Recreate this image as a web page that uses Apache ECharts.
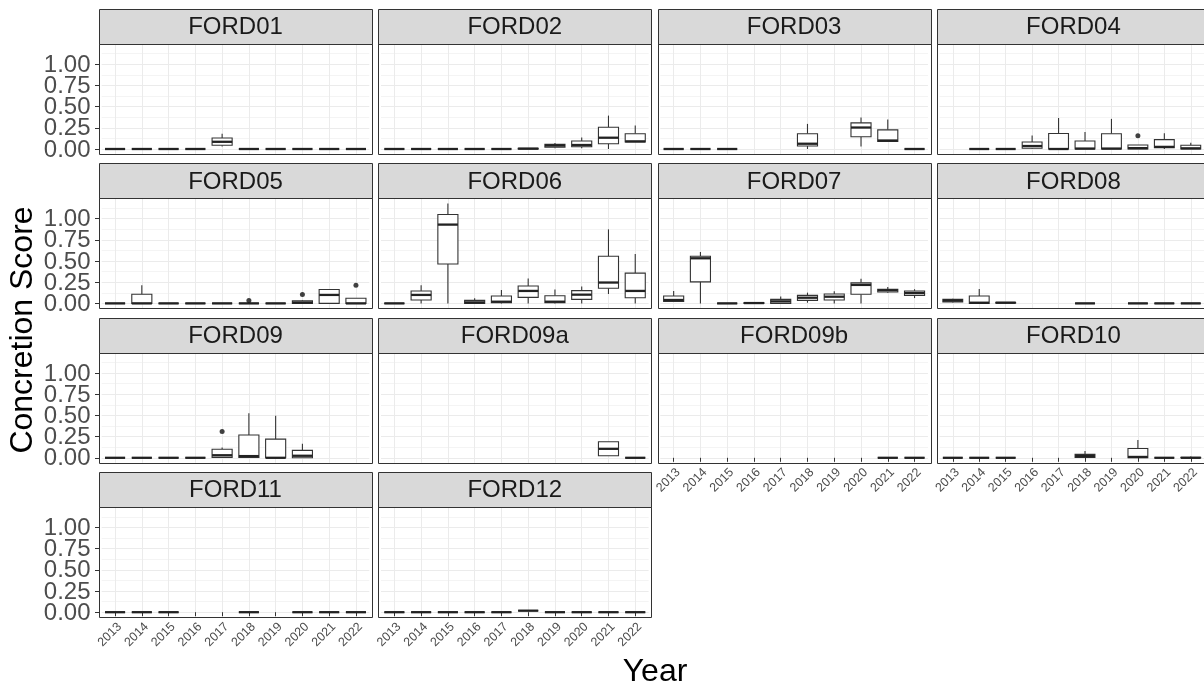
<!DOCTYPE html>
<html><head><meta charset="utf-8">
<script src="https://cdn.jsdelivr.net/npm/echarts@6/dist/echarts.min.js"></script>
<style>html,body{margin:0;padding:0;background:#fff}#c{width:1204px;height:686px}</style>
</head><body><div id="c"></div>
<script>
// ---------- data ----------
const years = ['2013','2014','2015','2016','2017','2018','2019','2020','2021','2022'];
const stations = ['FORD01','FORD02','FORD03','FORD04','FORD05','FORD06','FORD07','FORD08','FORD09','FORD09a','FORD09b','FORD10','FORD11','FORD12'];
const yTicks = [0, 0.25, 0.5, 0.75, 1.0];
// each item: [min, Q1, median, Q3, max]  (null = no samples that year)
const FORD01 = [[0,0,0,0,0],[0,0,0,0,0],[0,0,0,0,0],[0,0,0,0,0],[0.03,0.045,0.085,0.13,0.18],[0,0,0,0,0],[0,0,0,0,0],[0,0,0,0,0],[0,0,0,0,0],[0,0,0,0,0]];
const FORD02 = [[0,0,0,0,0],[0,0,0,0,0],[0,0,0,0,0],[0,0,0,0,0],[0,0,0,0,0],[0,0,0.004,0.008,0.01],[0.01,0.02,0.04,0.055,0.07],[0.01,0.027,0.047,0.094,0.136],[0,0.062,0.133,0.257,0.394],[0.082,0.082,0.09,0.18,0.277]];
const FORD03 = [[0,0,0,0,0],[0,0,0,0,0],[0,0,0,0,0],null,null,[0,0.035,0.062,0.18,0.296],null,[0.03,0.144,0.253,0.308,0.37],[0.09,0.09,0.1,0.226,0.347],[0,0,0,0,0]];
const FORD04 = [null,[0,0,0,0,0],[0,0,0,0,0],[0,0.008,0.035,0.082,0.16],[0,0,0,0.183,0.366],[0,0,0.005,0.094,0.2],[0,0,0.005,0.18,0.355],[0,0,0.01,0.047,0.047],[0,0.016,0.025,0.11,0.187],[0,0,0.008,0.045,0.074]];
const FORD05 = [[0,0,0,0,0],[0,0,0,0.107,0.214],[0,0,0,0,0],[0,0,0,0,0],[0,0,0,0,0],[0,0,0,0,0],[0,0,0,0,0],[0,0,0.01,0.03,0.04],[0,0,0.1,0.163,0.163],[0,0,0,0.06,0.06]];
const FORD06 = [[0,0,0,0,0],[0,0.04,0.1,0.147,0.214],[0,0.464,0.929,1.048,1.179],[0,0,0.012,0.036,0.06],[0,0.008,0.02,0.087,0.159],[0,0.071,0.147,0.206,0.294],[0,0.008,0.02,0.091,0.163],[0,0.048,0.103,0.151,0.198],[0.111,0.179,0.246,0.556,0.873],[0,0.067,0.147,0.357,0.583]];
const FORD07 = [[0.02,0.024,0.04,0.087,0.147],[0,0.254,0.532,0.556,0.607],[0,0,0,0,0],[0,0,0.004,0.008,0.01],[0,0,0.024,0.048,0.08],[0.008,0.036,0.067,0.095,0.127],[0,0.04,0.079,0.111,0.143],[0,0.107,0.218,0.242,0.29],[0.127,0.135,0.155,0.167,0.194],[0.063,0.095,0.123,0.147,0.167]];
const FORD08 = [[0.01,0.016,0.032,0.048,0.055],[0,0,0.008,0.087,0.17],[0,0.004,0.008,0.012,0.016],null,null,[0,0,0,0,0],null,[0,0,0,0,0],[0,0,0,0,0],[0,0,0,0,0]];
const FORD09 = [[0,0,0,0,0],[0,0,0,0,0],[0,0,0,0,0],[0,0,0,0,0],[0,0.005,0.03,0.1,0.12],[0,0.004,0.02,0.268,0.524],[0,0,0,0.22,0.496],[0,0,0.024,0.087,0.165],null,null];
const FORD09a = [null,null,null,null,null,null,null,null,[0.024,0.024,0.106,0.189,0.189],[0,0,0,0,0]];
const FORD09b = [null,null,null,null,null,null,null,null,[0,0,0,0,0],[0,0,0,0,0]];
const FORD10 = [[0,0,0,0,0],[0,0,0,0,0],[0,0,0,0,0],null,null,[0,0.005,0.02,0.04,0.08],null,[0,0,0.01,0.11,0.21],[0,0,0,0,0],[0,0,0,0.005,0.015]];
const FORD11 = [[0,0,0,0,0],[0,0,0,0,0],[0,0,0,0,0],null,null,[0,0,0,0,0],null,[0,0,0,0,0],[0,0,0,0,0],[0,0,0,0,0]];
const FORD12 = [[0,0,0,0,0],[0,0,0,0,0],[0,0,0,0,0],[0,0,0,0,0],[0,0,0,0,0],[0.018,0.018,0.018,0.018,0.018],[0,0,0,0,0],[0,0,0,0,0],[0,0,0,0,0],[0,0,0,0,0]];
// outliers: [station, year, value]
const outliers = [['FORD04','2020',0.155],['FORD05','2018',0.035],['FORD05','2020',0.105],['FORD05','2022',0.214],['FORD09','2017',0.31]];

const stationData = {FORD01,FORD02,FORD03,FORD04,FORD05,FORD06,FORD07,FORD08,FORD09,FORD09a,FORD09b,FORD10,FORD11,FORD12};

// ---------- layout ----------
const FONT = "'Liberation Sans', Arial, sans-serif";
const PANEL_LEFT0 = 99, PANEL_W = 273, COL_STEP = 279.3;
const STRIP_TOP0 = 9, STRIP_H = 35, PANEL_H = 110, ROW_STEP = 154.4;
const NCOL = 4;
const INSET = PANEL_W * 0.1 / 10.2; // ggplot discrete expansion (0.6 units each side)

let allVals = [];
stations.forEach(s => stationData[s].forEach(b => { if (b) allVals = allVals.concat(b); }));
outliers.forEach(o => allVals.push(o[2]));
const dMax = Math.max(...allVals), dMin = Math.min(...allVals);
const yMin = dMin - 0.05 * (dMax - dMin), yMax = dMax + 0.05 * (dMax - dMin);

const grids = [], xAxes = [], yAxes = [], series = [], graphics = [];
const leftPanels = [];

stations.forEach((name, i) => {
  const row = Math.floor(i / NCOL), col = i % NCOL;
  const px = PANEL_LEFT0 + col * COL_STEP;
  const st = STRIP_TOP0 + row * ROW_STEP;
  const pt = st + STRIP_H;
  const bottom = (i + NCOL >= stations.length);
  const leftCol = col === 0;
  if (leftCol) leftPanels.push(i);
  grids.push({left: px + INSET, top: pt, width: PANEL_W - 2 * INSET, height: PANEL_H});
  xAxes.push({
    type: 'category', gridIndex: i, data: years, boundaryGap: true,
    axisLine: {show: false},
    axisTick: {show: bottom, alignWithLabel: true, interval: 0, length: 4, lineStyle: {color: '#333', width: 1}},
    axisLabel: {show: bottom, interval: 0, rotate: 45, fontSize: 12.5, color: '#4D4D4D', margin: 3, fontFamily: FONT,
      verticalAlign: 'top'},
    splitLine: {show: true, interval: 0, alignWithLabel: true, lineStyle: {color: '#EBEBEB', width: 1}}
  });
  yAxes.push({
    type: 'value', gridIndex: i, min: yMin, max: yMax, minInterval: 0.25, maxInterval: 0.25,
    offset: INSET,
    axisLine: {show: false},
    axisTick: {show: leftCol, customValues: yTicks, length: 4, lineStyle: {color: '#333', width: 1}},
    axisLabel: {show: false},
    splitLine: {show: true, lineStyle: {color: '#EBEBEB', width: 1}},
    minorTick: {show: false, splitNumber: 2},
    minorSplitLine: {show: true, lineStyle: {color: '#F4F4F4', width: 1}}
  });
  const items = [];
  stationData[name].forEach((b, k) => { if (b) items.push([k].concat(b)); });
  series.push({
    type: 'custom', xAxisIndex: i, yAxisIndex: i, data: items,
    encode: {x: 0, y: [1, 2, 3, 4, 5]}, z: 3, silent: true,
    renderItem: function (params, api) {
      const x = api.value(0);
      const pMin = api.coord([x, api.value(1)]);
      const pQ1 = api.coord([x, api.value(2)]);
      const pMed = api.coord([x, api.value(3)]);
      const pQ3 = api.coord([x, api.value(4)]);
      const pMax = api.coord([x, api.value(5)]);
      const bw = api.size([1, 0])[0] * 0.75;
      const cx = pMed[0];
      const stroke = {stroke: '#333', lineWidth: 1.1, fill: null};
      return {type: 'group', children: [
        {type: 'line', shape: {x1: cx, y1: pMax[1], x2: cx, y2: pQ3[1]}, style: stroke},
        {type: 'line', shape: {x1: cx, y1: pQ1[1], x2: cx, y2: pMin[1]}, style: stroke},
        {type: 'rect', shape: {x: cx - bw / 2, y: pQ3[1], width: bw, height: pQ1[1] - pQ3[1]},
          style: {fill: '#fff', stroke: '#333', lineWidth: 1.1}},
        {type: 'line', shape: {x1: cx - bw / 2, y1: pMed[1], x2: cx + bw / 2, y2: pMed[1]},
          style: {stroke: '#222', lineWidth: 2.3}}
      ]};
    }
  });
  const outs = outliers.filter(o => o[0] === name).map(o => [o[1], o[2]]);
  if (outs.length) {
    series.push({type: 'scatter', xAxisIndex: i, yAxisIndex: i, data: outs, symbol: 'circle',
      symbolSize: 5, itemStyle: {color: '#111'}, z: 4, silent: true});
  }
  // strip + panel border
  graphics.push({type: 'rect', shape: {x: Math.round(px) + 0.5, y: Math.round(st) + 0.5, width: PANEL_W, height: STRIP_H},
    style: {fill: '#D9D9D9', stroke: '#333', lineWidth: 1}, z: 10});
  graphics.push({type: 'text', x: px + PANEL_W / 2, y: st + STRIP_H / 2 + 1,
    style: {text: name, font: '24px ' + FONT, fill: '#1A1A1A', textAlign: 'center', textVerticalAlign: 'middle', align: 'center', verticalAlign: 'middle'}, z: 11});
  graphics.push({type: 'rect', shape: {x: Math.round(px) + 0.5, y: Math.round(pt) + 0.5, width: PANEL_W, height: PANEL_H},
    style: {fill: null, stroke: '#333', lineWidth: 1}, z: 10});
});

graphics.push({type: 'text', x: 23, y: 330, rotation: Math.PI / 2,
  style: {text: 'Concretion Score', font: '32px ' + FONT, fill: '#000', textAlign: 'center', textVerticalAlign: 'middle', align: 'center', verticalAlign: 'middle'}, z: 11});
graphics.push({type: 'text', x: 655, y: 672,
  style: {text: 'Year', font: '32px ' + FONT, fill: '#000', textAlign: 'center', textVerticalAlign: 'middle', align: 'center', verticalAlign: 'middle'}, z: 11});

const chart = echarts.init(document.getElementById('c'), null, {renderer: 'canvas'});
chart.setOption({
  animation: false,
  backgroundColor: '#fff',
  grid: grids, xAxis: xAxes, yAxis: yAxes, series: series,
  graphic: {elements: graphics}
});

// y tick labels placed through each panel's y scale
const labelEls = [];
leftPanels.forEach(i => {
  yTicks.forEach(v => {
    const py = chart.convertToPixel({yAxisIndex: i}, v);
    labelEls.push({type: 'text', x: PANEL_LEFT0 - 8.5, y: py + 1,
      style: {text: v.toFixed(2), font: '24px ' + FONT, fill: '#4D4D4D', textAlign: 'right', textVerticalAlign: 'middle', align: 'right', verticalAlign: 'middle'}, z: 11});
  });
});
chart.setOption({graphic: {elements: graphics.concat(labelEls)}});
</script>
</body></html>
